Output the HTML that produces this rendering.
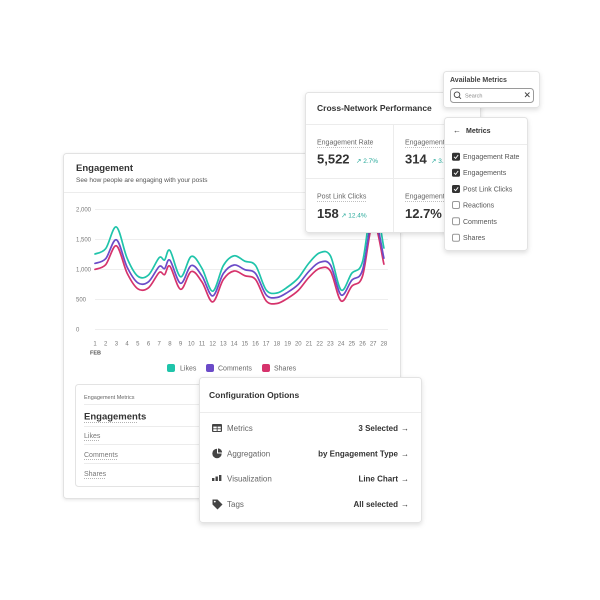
<!DOCTYPE html>
<html><head><meta charset="utf-8"><style>
html,body{margin:0;padding:0;background:#fff;}
svg{display:block;font-family:"Liberation Sans",sans-serif;}
</style></head><body>
<svg id="chart" width="600" height="600" viewBox="0 0 600 600" xmlns="http://www.w3.org/2000/svg">
<defs>
<filter id="sh" x="-20%" y="-20%" width="140%" height="140%">
<feDropShadow dx="0" dy="2" stdDeviation="2.5" flood-color="#000" flood-opacity="0.13"/>
</filter>
<filter id="sh2" x="-20%" y="-20%" width="140%" height="140%">
<feDropShadow dx="0" dy="1" stdDeviation="1.5" flood-color="#000" flood-opacity="0.10"/>
</filter>
</defs>
<rect width="600" height="600" fill="#fff"/>

<!-- Engagement card -->
<rect x="63.5" y="153.5" width="337" height="345" rx="3" fill="#fff" stroke="#e2e2e2" filter="url(#sh2)"/>
<line x1="64" y1="192.5" x2="400" y2="192.5" stroke="#ececec"/>
<text x="76" y="171" font-size="9.5" font-weight="bold" fill="#333">Engagement</text>
<text x="76" y="182" font-size="6.5" fill="#555">See how people are engaging with your posts</text>

<g stroke="#eeeeee" stroke-width="1">
<line x1="95" y1="209.5" x2="388" y2="209.5"/>
<line x1="95" y1="239.5" x2="388" y2="239.5"/>
<line x1="95" y1="269.5" x2="388" y2="269.5"/>
<line x1="95" y1="299.5" x2="388" y2="299.5"/>
<line x1="95" y1="329.5" x2="388" y2="329.5"/>
</g>
<g font-size="6" fill="#777">
<text x="76" y="211.5">2,000</text>
<text x="76" y="241.5">1,500</text>
<text x="76" y="271.5">1,000</text>
<text x="76" y="301.5">500</text>
<text x="76" y="331.5">0</text>
</g>
<g font-size="6" fill="#777" text-anchor="middle">
<text x="95" y="345.5">1</text><text x="105.7" y="345.5">2</text><text x="116.4" y="345.5">3</text><text x="127.1" y="345.5">4</text><text x="137.8" y="345.5">5</text><text x="148.5" y="345.5">6</text><text x="159.2" y="345.5">7</text><text x="169.9" y="345.5">8</text><text x="180.6" y="345.5">9</text><text x="191.3" y="345.5">10</text><text x="202" y="345.5">11</text><text x="212.7" y="345.5">12</text><text x="223.4" y="345.5">13</text><text x="234.1" y="345.5">14</text><text x="244.8" y="345.5">15</text><text x="255.5" y="345.5">16</text><text x="266.2" y="345.5">17</text><text x="276.9" y="345.5">18</text><text x="287.6" y="345.5">19</text><text x="298.3" y="345.5">20</text><text x="309" y="345.5">21</text><text x="319.7" y="345.5">22</text><text x="330.4" y="345.5">23</text><text x="341.1" y="345.5">24</text><text x="351.8" y="345.5">25</text><text x="362.5" y="345.5">26</text><text x="373.2" y="345.5">27</text><text x="383.9" y="345.5">28</text>
</g>
<text x="90" y="354.5" font-size="5.5" font-weight="bold" fill="#555">FEB</text>

<g id="lines" fill="none" stroke-width="1.7" stroke-linejoin="round" stroke-linecap="round">
<polyline class="sm" stroke="#d6336c" points="95,269.4 105.7,264.7 116.4,245.8 127.1,273.1 137.8,288.8 148.5,287.8 159.2,272.5 164.55,274.6 169.9,266.2 180.6,289.3 191.3,271.5 202,282 212.7,301.9 223.4,279.4 234.1,271 244.8,275.7 255.5,279.4 266.2,300.9 276.9,303.5 287.6,298.3 298.3,290.4 309,277.3 319.7,268.3 330.4,271 341.1,300.9 351.8,286.2 362.5,276.2 373.2,222 383.9,264.1"/>
<polyline class="sm" stroke="#6b4bc8" points="95,263.4 105.7,258.7 116.4,239.8 127.1,267.1 137.8,282.8 148.5,281.8 159.2,266.5 164.55,268.6 169.9,260.2 180.6,283.3 191.3,265.5 202,276 212.7,295.9 223.4,273.4 234.1,265 244.8,269.7 255.5,273.4 266.2,294.9 276.9,297.5 287.6,292.3 298.3,284.4 309,271.3 319.7,262.3 330.4,265 341.1,294.9 351.8,280.2 362.5,270.2 373.2,216 383.9,258.1"/>
<polyline class="sm" stroke="#1fc4aa" points="95,254 105.7,248.6 116.4,227 127.1,258.2 137.8,276.2 148.5,275 159.2,257.6 164.55,260 169.9,250.4 180.6,276.8 191.3,256.4 202,268.4 212.7,291.2 223.4,265.4 234.1,255.8 244.8,261.2 255.5,265.4 266.2,290 276.9,293 287.6,287 298.3,278 309,263 319.7,252.8 330.4,255.8 341.1,290 351.8,273.2 362.5,261.8 373.2,200 383.9,248"/>
</g>

<!-- legend -->
<rect x="167" y="364" width="8" height="8" rx="2" fill="#1fc4aa"/>
<text x="180" y="370.5" font-size="7" fill="#666">Likes</text>
<rect x="206" y="364" width="8" height="8" rx="2" fill="#6b4bc8"/>
<text x="218" y="370.5" font-size="7" fill="#666">Comments</text>
<rect x="262" y="364" width="8" height="8" rx="2" fill="#d6336c"/>
<text x="274" y="370.5" font-size="7" fill="#666">Shares</text>

<!-- inner metrics box -->
<rect x="75.5" y="384.5" width="320" height="102" rx="3" fill="#fff" stroke="#e3e3e3"/>
<text x="84" y="399" font-size="5.5" fill="#666">Engagement Metrics</text>
<line x1="84" y1="404.5" x2="395" y2="404.5" stroke="#ececec"/>
<text x="84" y="419.5" font-size="9.5" font-weight="bold" fill="#333">Engagements</text>
<line x1="84" y1="422.5" x2="138" y2="422.5" stroke="#999" stroke-dasharray="1,1" stroke-width="0.7"/>
<line x1="84" y1="426.5" x2="395" y2="426.5" stroke="#ececec"/>
<text x="84" y="438" font-size="7" fill="#777">Likes</text>
<line x1="84" y1="440.5" x2="100" y2="440.5" stroke="#999" stroke-dasharray="1,1" stroke-width="0.7"/>
<line x1="84" y1="444.5" x2="395" y2="444.5" stroke="#ececec"/>
<text x="84" y="457" font-size="7" fill="#777">Comments</text>
<line x1="84" y1="459.5" x2="117" y2="459.5" stroke="#999" stroke-dasharray="1,1" stroke-width="0.7"/>
<line x1="84" y1="463.5" x2="395" y2="463.5" stroke="#ececec"/>
<text x="84" y="476" font-size="7" fill="#777">Shares</text>
<line x1="84" y1="478.5" x2="105" y2="478.5" stroke="#999" stroke-dasharray="1,1" stroke-width="0.7"/>

<!-- connector -->
<line x1="480.5" y1="106" x2="480.5" y2="118" stroke="#ddd"/>

<!-- Cross-Network card -->
<rect x="305.5" y="92.5" width="175" height="140" rx="3" fill="#fff" stroke="#e3e3e3" filter="url(#sh)"/>
<text x="317" y="111" font-size="8.5" font-weight="bold" fill="#333">Cross-Network Performance</text>
<line x1="306" y1="124.5" x2="480" y2="124.5" stroke="#ececec"/>
<line x1="393.5" y1="125" x2="393.5" y2="232" stroke="#ececec"/>
<line x1="306" y1="178.5" x2="480" y2="178.5" stroke="#ececec"/>
<text x="317" y="144.5" font-size="7" fill="#666">Engagement Rate</text>
<line x1="317" y1="147.5" x2="372" y2="147.5" stroke="#aaa" stroke-dasharray="1,1" stroke-width="0.7"/>
<text x="317" y="163.5" font-size="13" font-weight="bold" fill="#333">5,522</text>
<text x="356" y="163" font-size="6.5" fill="#27a99a">↗ 2.7%</text>
<text x="317" y="198.5" font-size="7" fill="#666">Post Link Clicks</text>
<line x1="317" y1="201.5" x2="367" y2="201.5" stroke="#aaa" stroke-dasharray="1,1" stroke-width="0.7"/>
<text x="317" y="218" font-size="13" font-weight="bold" fill="#333">158</text>
<text x="341" y="217.5" font-size="6.5" fill="#27a99a">↗ 12.4%</text>
<text x="405" y="144.5" font-size="7" fill="#666">Engagements</text>
<line x1="405" y1="147.5" x2="450" y2="147.5" stroke="#aaa" stroke-dasharray="1,1" stroke-width="0.7"/>
<text x="405" y="163.5" font-size="13" font-weight="bold" fill="#333">314</text>
<text x="431" y="163" font-size="6.5" fill="#27a99a">↗ 3.1%</text>
<text x="405" y="198.5" font-size="7" fill="#666">Engagement Rate</text>
<line x1="405" y1="201.5" x2="450" y2="201.5" stroke="#aaa" stroke-dasharray="1,1" stroke-width="0.7"/>
<text x="405" y="218" font-size="13" font-weight="bold" fill="#333">12.7%</text>

<!-- Available Metrics -->
<rect x="443.5" y="71.5" width="96" height="36" rx="3" fill="#fff" stroke="#e3e3e3" filter="url(#sh)"/>
<text x="450" y="82" font-size="7" font-weight="bold" fill="#444">Available Metrics</text>
<rect x="450.5" y="88.5" width="83" height="14" rx="3" fill="#fff" stroke="#9a9a9a"/>
<circle cx="457" cy="94.7" r="2.8" fill="none" stroke="#444" stroke-width="0.9"/>
<line x1="459" y1="96.8" x2="461" y2="98.8" stroke="#444" stroke-width="0.9"/>
<text x="465" y="97.5" font-size="5.5" fill="#888">Search</text>
<line x1="525" y1="92.5" x2="529.5" y2="97" stroke="#444" stroke-width="0.9"/>
<line x1="529.5" y1="92.5" x2="525" y2="97" stroke="#444" stroke-width="0.9"/>

<!-- Metrics panel -->
<rect x="444.5" y="117.5" width="83" height="133" rx="3" fill="#fff" stroke="#e3e3e3" filter="url(#sh)"/>
<text x="453" y="133" font-size="8" fill="#333">←</text>
<text x="466" y="133" font-size="7" font-weight="bold" fill="#333">Metrics</text>
<line x1="445" y1="144.5" x2="527" y2="144.5" stroke="#ececec"/>
<g font-size="7" fill="#555">
<rect x="452" y="152.7" width="8" height="8" rx="1.5" fill="#333"/>
<polyline points="454,156.8 455.6,158.4 458.2,155" fill="none" stroke="#fff" stroke-width="0.9"/>
<text x="463" y="159.2">Engagement Rate</text>
<rect x="452" y="168.7" width="8" height="8" rx="1.5" fill="#333"/>
<polyline points="454,172.8 455.6,174.4 458.2,171" fill="none" stroke="#fff" stroke-width="0.9"/>
<text x="463" y="175.2">Engagements</text>
<rect x="452" y="185" width="8" height="8" rx="1.5" fill="#333"/>
<polyline points="454,189.1 455.6,190.7 458.2,187.3" fill="none" stroke="#fff" stroke-width="0.9"/>
<text x="463" y="191.5">Post Link Clicks</text>
<rect x="452.5" y="201.5" width="7" height="7" rx="1.5" fill="#fff" stroke="#999"/>
<text x="463" y="207.5">Reactions</text>
<rect x="452.5" y="217.8" width="7" height="7" rx="1.5" fill="#fff" stroke="#999"/>
<text x="463" y="223.8">Comments</text>
<rect x="452.5" y="234.2" width="7" height="7" rx="1.5" fill="#fff" stroke="#999"/>
<text x="463" y="240.2">Shares</text>
</g>

<!-- Configuration Options -->
<rect x="199.5" y="377.5" width="222" height="145" rx="3" fill="#fff" stroke="#e3e3e3" filter="url(#sh)"/>
<text x="209" y="398" font-size="8.5" font-weight="bold" fill="#333">Configuration Options</text>
<line x1="200" y1="412.5" x2="421" y2="412.5" stroke="#ececec"/>
<rect x="212" y="424" width="10" height="8" rx="1" fill="#444"/>
<rect x="213.3" y="426.6" width="3.4" height="1.8" fill="#fff"/>
<rect x="217.6" y="426.6" width="3.2" height="1.8" fill="#fff"/>
<rect x="213.3" y="429.2" width="3.4" height="1.8" fill="#fff"/>
<rect x="217.6" y="429.2" width="3.2" height="1.8" fill="#fff"/>
<circle cx="217" cy="453.5" r="4.7" fill="#444"/>
<path d="M217,453.5 L217,448.5 A5,5 0 0 1 222,453.5 Z" fill="#fff"/>
<path d="M218,452.5 L218,448.4 A4.2,4.2 0 0 1 222.1,452.5 Z" fill="#444"/>
<rect x="212" y="478" width="2.4" height="3" fill="#444"/>
<rect x="215.5" y="476.5" width="2.4" height="4.5" fill="#444"/>
<rect x="219" y="475" width="2.4" height="6" fill="#444"/>
<path d="M212.5,499.5 L217.5,499.5 L222.5,504.5 L217.5,509.5 L212.5,504.5 Z" fill="#444"/>
<circle cx="214.8" cy="501.6" r="0.9" fill="#fff"/>
<g font-size="8" fill="#666">
<text x="227" y="431">Metrics</text>
<text x="227" y="456.3">Aggregation</text>
<text x="227" y="481.7">Visualization</text>
<text x="227" y="507">Tags</text>
</g>
<g font-size="8" font-weight="bold" fill="#333" text-anchor="end">
<text x="398" y="431">3 Selected</text>
<text x="398" y="456.3">by Engagement Type</text>
<text x="398" y="481.7">Line Chart</text>
<text x="398" y="507">All selected</text>
</g>
<g font-size="8" fill="#333">
<text x="401" y="431">→</text>
<text x="401" y="456.3">→</text>
<text x="401" y="481.7">→</text>
<text x="401" y="507">→</text>
</g>
</svg>
<script>
(function(){
  var NS="http://www.w3.org/2000/svg";
  var pls=document.querySelectorAll("polyline.sm");
  for(var k=0;k<pls.length;k++){
    var pl=pls[k];
    var pts=pl.getAttribute("points").trim().split(/\s+/).map(function(s){var a=s.split(",");return [parseFloat(a[0]),parseFloat(a[1])];});
    var d="M"+pts[0][0]+","+pts[0][1];
    for(var i=0;i<pts.length-1;i++){
      var p0=pts[i>0?i-1:i],p1=pts[i],p2=pts[i+1],p3=pts[i+2<pts.length?i+2:i+1];
      var t=6;
      var c1x=p1[0]+(p2[0]-p0[0])/t,c1y=p1[1]+(p2[1]-p0[1])/t;
      var c2x=p2[0]-(p3[0]-p1[0])/t,c2y=p2[1]-(p3[1]-p1[1])/t;
      d+=" C"+c1x.toFixed(2)+","+c1y.toFixed(2)+" "+c2x.toFixed(2)+","+c2y.toFixed(2)+" "+p2[0]+","+p2[1];
    }
    var path=document.createElementNS(NS,"path");
    path.setAttribute("d",d);
    path.setAttribute("stroke",pl.getAttribute("stroke"));
    pl.parentNode.replaceChild(path,pl);
  }
})();
</script>
</body></html>
